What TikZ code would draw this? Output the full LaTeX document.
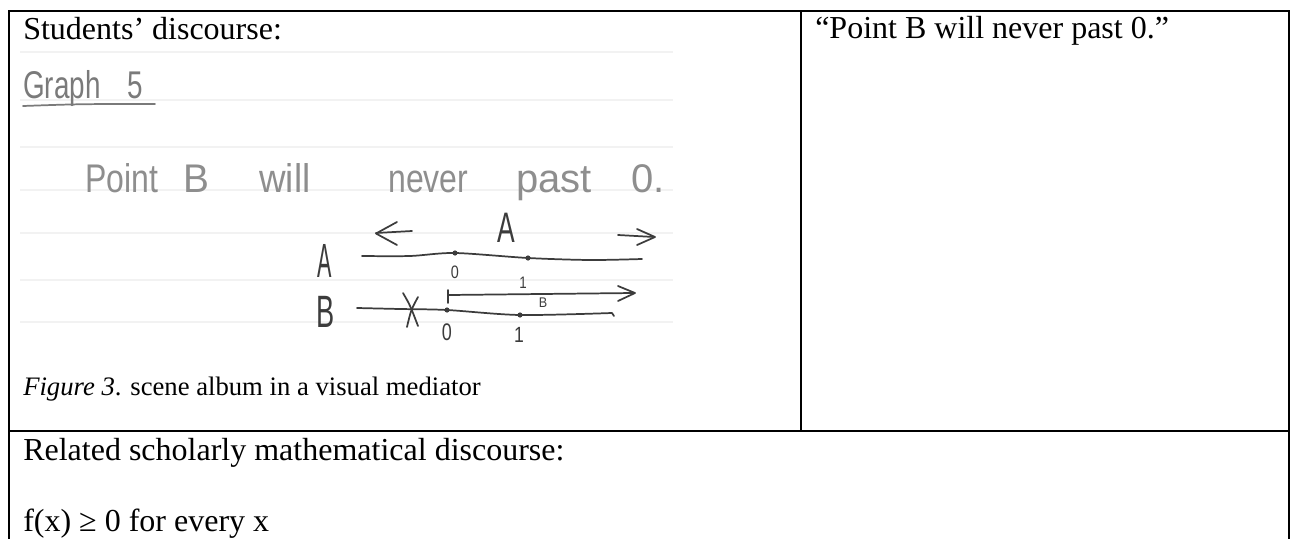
\documentclass[tikz,border=0pt]{standalone}
\usepackage{fontspec}
\usepackage{graphicx}
\setmainfont{Liberation Serif}
\newfontfamily\hand{Liberation Sans}

% pencil tones
\definecolor{pencilLight}{HTML}{8E8E8E}
\definecolor{pencilMid}{HTML}{7A7A7A}
\definecolor{pencilDark}{HTML}{3C3C3C}
\definecolor{paperRule}{HTML}{F2F2F2}

\tikzset{
  frame/.style={line width=1.5pt, black},
  ruled/.style={line width=0.9pt, paperRule},
  pencil/.style={line width=1.3pt, pencilDark, line cap=round, line join=round},
  body/.style={anchor=base west, inner sep=0pt, font=\fontsize{24}{28}\selectfont},
  caption/.style={anchor=base west, inner sep=0pt, font=\fontsize{20}{24}\selectfont},
  hw/.style={anchor=base west, inner sep=0pt, text=pencilLight},
  hwlabel/.style={anchor=center, inner sep=0pt, text=pencilDark},
}

% horizontally squeezed handwriting-like text: \hwtext{size pt}{x-scale}{text}
\newcommand{\hwtext}[3]{{\hand\fontsize{#1}{#1}\selectfont\scalebox{#2}[1]{#3}}}

\begin{document}
\begin{tikzpicture}[x=0.75pt, y=-0.75pt]
\useasboundingbox (0,0) rectangle (1293,539);

% ---- faint rules of the notebook page ----
\foreach \yy in {52,100,147,190,233,280,322}
  \draw[ruled] (20,\yy) -- (673,\yy);

% ---- table frame ----
\draw[frame] (8.5,545) -- (8.5,10.5) -- (1289,10.5) -- (1289,545);
\draw[frame] (801,10.5) -- (801,431);
\draw[frame] (8.5,431) -- (1289,431);

% ---- printed text ----
\node[body] (students) at (23,39) {Students’ discourse:};
\node[body] (quote) at (815,38) {“Point B will never past 0.”};
\node[caption] (figcap) at (23,395) {\textit{Figure 3}. scene album in a visual mediator};
\node[body] (related) at (23,460) {Related scholarly mathematical discourse:};
\node[body] (formula) at (23,531) {f(x) ≥ 0 for every x};

% ---- handwritten heading ----
\node[hw, text=pencilMid] (graph) at (23,98) {\hwtext{29}{0.72}{Graph}};
\node[hw, text=pencilMid] (five) at (127,98) {\hwtext{29}{0.72}{5}};
\draw[line width=1.3pt, pencilMid, line cap=round] (23,106) .. controls (80,104) .. (155,104);

% ---- handwritten sentence ----
\node[hw] (w1) at (85,192) {\hwtext{30}{0.8}{Point}};
\node[hw] (w2) at (183,192) {\hwtext{30}{0.97}{B}};
\node[hw] (w3) at (259,192) {\hwtext{30}{0.92}{will}};
\node[hw] (w4) at (388,192) {\hwtext{30}{0.8}{never}};
\node[hw] (w5) at (516,192) {\hwtext{30}{1}{past}};
\node[hw] (w6) at (631,192) {\hwtext{30}{1}{0.}};

% ---- number line A ----
\node[hwlabel] (topA) at (506,228) {\hwtext{32}{0.62}{A}};
\node[hwlabel] (labA) at (325,261) {\hwtext{36}{0.45}{A}};
\draw[pencil] (376,233) -- (412,231);
\draw[pencil] (397,222) -- (376,233.5) -- (397,245);
\draw[pencil] (618,235) -- (654,237);
\draw[pencil] (637,229) -- (655,237) -- (637,245);
\draw[pencil] plot[smooth] coordinates {(362,256) (410,256) (455,253) (528,258) (590,260) (642,259)};
\fill[pencilDark] (455,253) circle (2.6);
\fill[pencilDark] (528,258) circle (2.6);
\node[hwlabel] (a0) at (455,272) {\hwtext{13.5}{0.8}{0}};
\node[hwlabel] (a1) at (523,283) {\hwtext{12.5}{0.8}{1}};

% ---- number line B ----
\node[hwlabel] (labB) at (326,312) {\hwtext{34}{0.6}{B}};
\draw[pencil] plot[smooth] coordinates {(357,308) (400,309) (447,310) (520,315) (612,313)} -- (614,316);
\fill[pencilDark] (447,310) circle (2.6);
\fill[pencilDark] (520,315) circle (2.6);
% crossed-out left half
\draw[pencil] (403,293) .. controls (410,305) .. (418,326);
\draw[pencil] (418,297) .. controls (411,310) .. (407,327);
% ray starting at 0
\draw[pencil] (448,290) -- (448,303);
\draw[pencil] (449,295) -- (634,293);
\draw[pencil] (618,286) -- (635,293) -- (618,301);
\node[hwlabel] (rayB) at (543,303) {\hwtext{10.5}{0.9}{B}};
\node[hwlabel] (b0) at (447,332) {\hwtext{18}{0.75}{0}};
\node[hwlabel] (b1) at (519,335) {\hwtext{16.5}{0.8}{1}};
\end{tikzpicture}
\end{document}
